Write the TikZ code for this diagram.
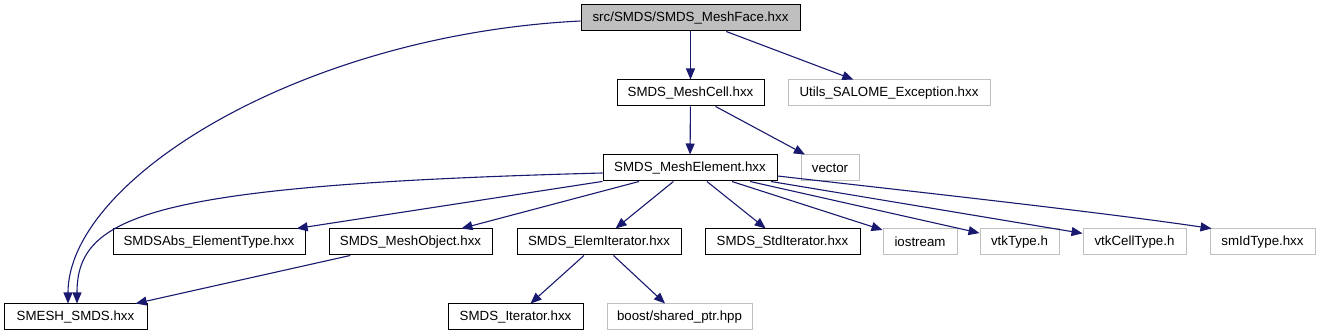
\documentclass[tikz,border=0pt]{standalone}
\usepackage{fontspec}
\setmainfont{Liberation Sans}
\usetikzlibrary{arrows.meta,calc}
\definecolor{edgeblue}{HTML}{191970}
\definecolor{graybox}{HTML}{BFBFBF}
\definecolor{facefill}{HTML}{BFBFBF}
\begin{document}
\begin{tikzpicture}[x=1pt,y=-1pt,
  every node/.style={font=\fontsize{13.3}{15}\selectfont, inner sep=0pt, minimum height=26pt},
  box/.style={draw=black, line width=1pt, fill=white},
  extbox/.style={draw=graybox, line width=1pt, fill=white},
  dep/.style={draw=edgeblue, line width=1.1pt, -{Triangle[length=11pt,width=9pt]}}
]
\useasboundingbox (0,0) rectangle (1320,336);
\fill[white] (0,0) rectangle (1320,336);

% nodes
\node[box, fill=facefill, minimum width=219pt] (face) at (690.5,18) {src/SMDS/SMDS\_MeshFace.hxx};
\node[box, minimum width=147pt] (cell) at (690.5,93) {SMDS\_MeshCell.hxx};
\node[extbox, minimum width=202pt] (utils) at (889,93) {Utils\_SALOME\_Exception.hxx};
\node[box, minimum width=174pt] (elem) at (690,168) {SMDS\_MeshElement.hxx};
\node[extbox, minimum width=58pt] (vector) at (830,168) {vector};
\node[box, minimum width=143pt] (smesh) at (75.5,317) {SMESH\_SMDS.hxx};
\node[box, minimum width=192pt] (abs) at (209,242) {SMDSAbs\_ElementType.hxx};
\node[box, minimum width=163pt] (obj) at (410.5,242) {SMDS\_MeshObject.hxx};
\node[box, minimum width=164pt] (elit) at (599,242) {SMDS\_ElemIterator.hxx};
\node[box, minimum width=155pt] (stdit) at (782.5,242) {SMDS\_StdIterator.hxx};
\node[extbox, minimum width=74pt] (ios) at (920,242) {iostream};
\node[extbox, minimum width=79pt] (vtk) at (1019.5,242) {vtkType.h};
\node[extbox, minimum width=103pt] (vtkcell) at (1134.5,242) {vtkCellType.h};
\node[extbox, minimum width=105pt] (smid) at (1262.5,242) {smIdType.hxx};
\node[box, minimum width=135pt] (iter) at (515.5,317) {SMDS\_Iterator.hxx};
\node[extbox, minimum width=145pt] (boost) at (679.5,317) {boost/shared\_ptr.hpp};

% edges
\draw[dep] ($(face.west)+(0,3)$) .. controls (300,35) and (68,180) .. ($(smesh.north)+(-7.5,0)$);
\draw[dep] (face) -- (cell);
\draw[dep] (face) -- (utils);
\draw[dep] (cell) -- (elem);
\draw[dep] (cell) -- (vector);
\draw[dep] ($(elem.west)+(0,5)$) .. controls (150,185) and (77,215) .. ($(smesh.north)+(1.5,0)$);
\draw[dep] (elem) -- (abs);
\draw[dep] (elem) -- (obj);
\draw[dep] (elem) -- (elit);
\draw[dep] (elem) -- (stdit);
\draw[dep] (elem) -- (ios);
\draw[dep] (elem) -- (vtk);
\draw[dep] (elem) -- (vtkcell);
\draw[dep] ($(elem.east)+(0,8)$) .. controls (900,190) and (1100,212) .. ($(smid.north west)+(2,0)$);
\draw[dep] (obj) -- (smesh);
\draw[dep] (elit) -- (iter);
\draw[dep] (elit) -- (boost);
\end{tikzpicture}
\end{document}
